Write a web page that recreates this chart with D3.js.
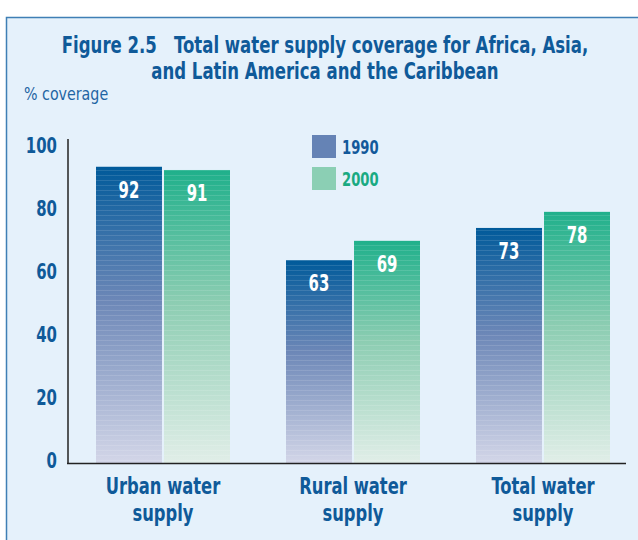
<!DOCTYPE html>
<html><head><meta charset="utf-8">
<script src="https://cdn.jsdelivr.net/npm/d3@7/dist/d3.min.js"></script>
<style>body{margin:0;background:#fff;}svg{display:block;}</style>
</head><body>
<svg id="c" width="638" height="540"></svg>
<script>
const categories = ["Urban water supply", "Rural water supply", "Total water supply"];
const categoryLines = [["Urban water", "supply"], ["Rural water", "supply"], ["Total water", "supply"]];
const seriesNames = ["1990", "2000"];
const values1990 = [92, 63, 73];
const values2000 = [91, 69, 78];
const yTicks = [0, 20, 40, 60, 80, 100];

const FONT = "'DejaVu Sans Condensed','DejaVu Sans',sans-serif";
const svg = d3.select("#c");
const defs = svg.append("defs");

// condensed text helper
function ctext(parent, x, y, str, opts) {
  return parent.append("text")
    .attr("transform", `translate(${x},${y}) scale(${opts.sx || 0.8},1)`)
    .attr("text-anchor", opts.anchor || "middle")
    .attr("font-family", FONT)
    .attr("font-weight", opts.weight || "bold")
    .attr("font-size", opts.size)
    .attr("fill", opts.fill)
    .text(str);
}

// panel
svg.append("rect").attr("x", 6.5).attr("y", 17.5).attr("width", 700).attr("height", 600)
  .attr("fill", "#e5f1fb").attr("stroke", "#3f7fb5").attr("stroke-width", 1.5);

// gradients
const g1 = defs.append("linearGradient").attr("id", "g1990").attr("x1", 0).attr("y1", 0).attr("x2", 0).attr("y2", 1);
g1.append("stop").attr("offset", "0%").attr("stop-color", "#005a9a");
g1.append("stop").attr("offset", "45%").attr("stop-color", "#6c87b7");
g1.append("stop").attr("offset", "100%").attr("stop-color", "#d3d6e8");
const g2 = defs.append("linearGradient").attr("id", "g2000").attr("x1", 0).attr("y1", 0).attr("x2", 0).attr("y2", 1);
g2.append("stop").attr("offset", "0%").attr("stop-color", "#1fb08b");
g2.append("stop").attr("offset", "45%").attr("stop-color", "#8ccdb2");
g2.append("stop").attr("offset", "100%").attr("stop-color", "#e1eee8");
const pat = defs.append("pattern").attr("id", "stripes").attr("patternUnits", "userSpaceOnUse")
  .attr("width", 10).attr("height", 5);
pat.append("rect").attr("x", 0).attr("y", 0).attr("width", 10).attr("height", 1).attr("fill", "#ffffff").attr("opacity", 0.12);

// title
const TITLE = "#0f5a99";
ctext(svg, 325, 53, "Figure 2.5\u00a0\u00a0\u00a0Total water supply coverage for Africa, Asia,", { size: 23, fill: TITLE, sx: 0.8 });
ctext(svg, 325, 79, "and Latin America and the Caribbean", { size: 23, fill: TITLE, sx: 0.8 });
ctext(svg, 24, 100, "% coverage", { size: 18, fill: "#1f65a3", sx: 0.88, anchor: "start", weight: "normal" });

const y = d3.scaleLinear().domain([0, 100]).range([463, 141]);
const x0 = d3.scaleBand().domain(categories).range([68, 638]).paddingInner(0).paddingOuter(0);
const x1 = d3.scaleBand().domain(seriesNames).range([x0.bandwidth() / 2 - 67, x0.bandwidth() / 2 + 67]).paddingInner(0.03);

const data = categories.map((c, i) => ({ cat: c, vals: [{ s: "1990", v: values1990[i] }, { s: "2000", v: values2000[i] }] }));

const groups = svg.append("g").selectAll("g").data(data).join("g")
  .attr("transform", d => `translate(${x0(d.cat)},0)`);
groups.selectAll("rect.bar").data(d => d.vals).join("rect").attr("class", "bar")
  .attr("x", d => x1(d.s)).attr("width", x1.bandwidth())
  .attr("y", d => y(d.v)).attr("height", d => y(0) - y(d.v))
  .attr("fill", d => d.s === "1990" ? "url(#g1990)" : "url(#g2000)");
groups.selectAll("rect.str").data(d => d.vals).join("rect").attr("class", "str")
  .attr("x", d => x1(d.s)).attr("width", x1.bandwidth())
  .attr("y", d => y(d.v)).attr("height", d => y(0) - y(d.v))
  .attr("fill", "url(#stripes)");
groups.each(function (d) {
  const g = d3.select(this);
  d.vals.forEach(v => ctext(g, x1(v.s) + x1.bandwidth() / 2, y(v.v) + 31, v.v, { size: 23, fill: "#fff", sx: 0.72 }));
});

// axes
const yAxis = d3.axisLeft(y).tickValues(yTicks).tickSize(0).tickFormat("");
const ya = svg.append("g").attr("transform", "translate(68,0)").call(yAxis);
ya.select(".domain").attr("stroke", "#222").attr("stroke-width", 1.5).attr("d", `M0,${y(100) - 2}V${y(0)}`);
yTicks.forEach(t => ctext(svg, 57, y(t) + 5 + t * 0.07, t, { size: 21, fill: TITLE, sx: 0.79, anchor: "end" }));

svg.append("line").attr("x1", 67).attr("x2", 626).attr("y1", y(0) + 0.5).attr("y2", y(0) + 0.5)
  .attr("stroke", "#222").attr("stroke-width", 1.5);

categories.forEach((c, i) => {
  const cx = x0(c) + x0.bandwidth() / 2;
  categoryLines[i].forEach((ln, j) => ctext(svg, cx, 494 + j * 27, ln, { size: 23, fill: TITLE, sx: 0.79 }));
});

// legend
const legendColors = ["#6583b5", "#8bcfb4"];
const legendText = ["#13599a", "#1aaa82"];
const lg = svg.append("g").selectAll("g").data(seriesNames).join("g")
  .attr("transform", (d, i) => `translate(312,${135 + i * 32})`);
lg.append("rect").attr("width", 24).attr("height", 23).attr("fill", (d, i) => legendColors[i]);
lg.each(function (d, i) {
  ctext(d3.select(this), 30, 19, d, { size: 19, fill: legendText[i], sx: 0.77, anchor: "start" });
});
</script>
</body></html>
